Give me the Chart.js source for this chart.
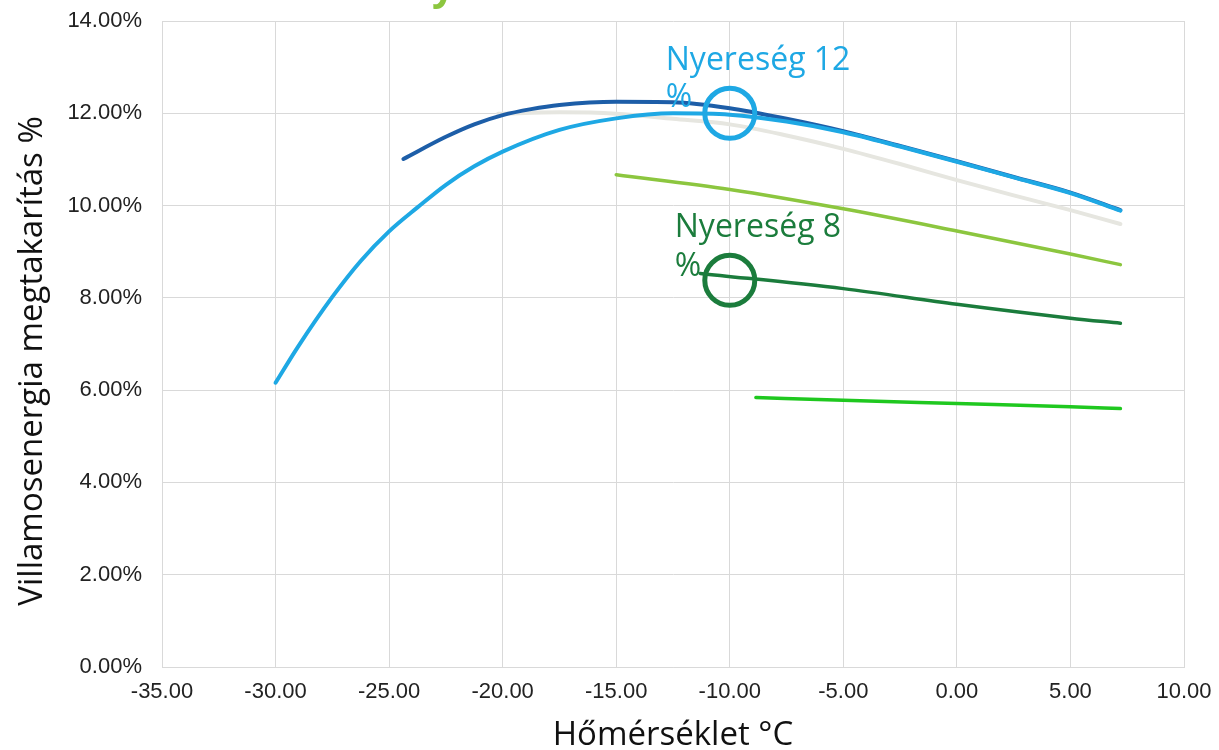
<!DOCTYPE html>
<html>
<head>
<meta charset="utf-8">
<script src="https://cdn.jsdelivr.net/npm/chart.js@4/dist/chart.umd.min.js"></script>
<style>
html,body{margin:0;padding:0;background:#fff;}
#wrap{width:1219px;height:750px;position:relative;}
</style>
</head>
<body>
<div id="wrap"><canvas id="c" width="1219" height="750"></canvas></div>
<script>
// ---- data ----
const xTicks = [-35, -30, -25, -20, -15, -10, -5, 0, 5, 10];
const yTicks = [0, 2, 4, 6, 8, 10, 12, 14];

const lightBlueX = [-30, -29, -27.5, -26.25, -25, -23.75, -22.5, -21.25, -20, -17.5, -15, -12.5, -10, -7.5, -5, -2.5, 0, 2.5, 5, 7.2];
const lightBlueY = [6.16, 6.95, 8.02, 8.8, 9.44, 9.96, 10.45, 10.85, 11.17, 11.64, 11.89, 12.0, 11.97, 11.82, 11.59, 11.28, 10.95, 10.61, 10.27, 9.89];

const darkBlueX = [-24.37, -22.5, -21.25, -20, -18.75, -17.5, -15, -12.5, -10, -7.5, -5, -2.5, 0, 2.5, 5, 7.2];
const darkBlueY = [11.01, 11.49, 11.76, 11.96, 12.09, 12.18, 12.25, 12.24, 12.11, 11.88, 11.61, 11.29, 10.96, 10.62, 10.28, 9.9];

const grayX = [-20.2, -17.5, -15, -12.5, -10, -7.5, -5, -2.5, 0, 2.5, 5, 7.2];
const grayY = [11.99, 12.02, 11.99, 11.88, 11.76, 11.52, 11.23, 10.9, 10.55, 10.22, 9.9, 9.6];

const lightGreenX = [-15, -10, -5, 0, 5, 7.2];
const lightGreenY = [10.67, 10.35, 9.93, 9.45, 8.95, 8.72];

const darkGreenX = [-11.3, -5, 0, 5, 7.2];
const darkGreenY = [8.53, 8.2, 7.86, 7.56, 7.45];

const brightGreenX = [-8.85, -5, 0, 5, 7.2];
const brightGreenY = [5.84, 5.78, 5.71, 5.64, 5.6];

const markerX = [-10, -10];
const markerY = [12.0, 8.38];
const markerLabels = [["Nyereség 12", "%"], ["Nyereség 8", "%"]];
const markerColors = ["#1ea8e4", "#1b7c3c"];

const xTitle = "Hőmérséklet °C";
const yTitle = "Villamosenergia megtakarítás %";
const chartTitleFragment = "y";

// ---- helpers ----
function pts(xs, ys) { return xs.map((x, i) => ({x: x, y: ys[i]})); }
function lineDs(xs, ys, color, w) {
  return {
    data: pts(xs, ys), showLine: true, borderColor: color, backgroundColor: color,
    borderWidth: w, pointRadius: 0, pointHoverRadius: 0, fill: false,
    cubicInterpolationMode: 'monotone', borderCapStyle: 'round', borderJoinStyle: 'round'
  };
}
function markerDs(i) {
  return {
    data: [{x: markerX[i], y: markerY[i]}], showLine: false,
    pointRadius: 25, pointBorderWidth: 5, pointBorderColor: markerColors[i],
    pointBackgroundColor: 'rgba(0,0,0,0)', pointHoverRadius: 25, clip: false
  };
}

const labelPlugin = {
  id: 'markerLabels',
  afterDatasetsDraw(chart) {
    const ctx = chart.ctx;
    const xs = chart.scales.x, ys = chart.scales.y;
    const offs = [[-64, -43, -6], [-55, -43, -4]];
    ctx.save();
    ctx.font = '32px "Open Sans"';
    ctx.textAlign = 'left';
    ctx.textBaseline = 'alphabetic';
    markerLabels.forEach((lines, i) => {
      const px = xs.getPixelForValue(markerX[i]);
      const py = ys.getPixelForValue(markerY[i]);
      ctx.fillStyle = markerColors[i];
      ctx.fillText(lines[0], px + offs[i][0], py + offs[i][1]);
      ctx.fillText(lines[1], px + offs[i][0], py + offs[i][2]);
    });
    // y axis title (rotated), placed a little below the plot-area centre as in the source
    ctx.save();
    ctx.translate(33, 361);
    ctx.rotate(-Math.PI / 2);
    ctx.font = '33px "Open Sans"';
    ctx.fillStyle = '#111';
    ctx.textAlign = 'center';
    ctx.textBaseline = 'middle';
    ctx.fillText(yTitle, 0, 0);
    ctx.restore();
    // clipped chart title remnant at the very top
    ctx.fillStyle = '#8cc63f';
    ctx.font = 'bold 40px "Open Sans"';
    ctx.fillText(chartTitleFragment, 432, 0);
    ctx.restore();
  }
};

const tickFont = {family: '"Liberation Sans", Arial, sans-serif', size: 22};

new Chart(document.getElementById('c'), {
  type: 'scatter',
  data: {
    datasets: [
      markerDs(0),
      markerDs(1),
      lineDs(lightBlueX, lightBlueY, '#1ea8e4', 4),
      lineDs(darkBlueX, darkBlueY, '#1d5ea8', 4),
      lineDs(grayX, grayY, '#e6e6e0', 4),
      lineDs(lightGreenX, lightGreenY, '#8cc63f', 3.5),
      lineDs(darkGreenX, darkGreenY, '#1b7c3c', 3.5),
      lineDs(brightGreenX, brightGreenY, '#1fc81f', 3.5)
    ]
  },
  options: {
    responsive: false,
    animation: false,
    devicePixelRatio: 1,
    layout: {autoPadding: false, padding: {top: 21, right: 35, left: 0, bottom: 0}},
    plugins: {legend: {display: false}, tooltip: {enabled: false}, title: {display: false}},
    scales: {
      x: {
        type: 'linear', min: -35, max: 10,
        afterBuildTicks: s => { s.ticks = xTicks.map(v => ({value: v})); },
        ticks: {font: tickFont, color: '#222', padding: 12, maxRotation: 0, autoSkip: false,
                callback: v => Number(v).toFixed(2)},
        grid: {color: '#d9d9d9', lineWidth: 1, drawTicks: false},
        border: {color: '#d9d9d9', width: 1},
        title: {display: true, text: xTitle, color: '#111',
                font: {family: '"Open Sans"', size: 33, lineHeight: 1}, padding: {top: 0, bottom: -2}},
        afterFit: s => { s.height = 83; s.paddingLeft = 0; s.paddingRight = 0; }
      },
      y: {
        type: 'linear', min: 0, max: 14,
        afterBuildTicks: s => { s.ticks = yTicks.map(v => ({value: v})); },
        ticks: {font: tickFont, color: '#222', padding: 20, autoSkip: false,
                callback: v => Number(v).toFixed(2) + '%'},
        grid: {color: '#d9d9d9', lineWidth: 1, drawTicks: false},
        border: {color: '#d9d9d9', width: 1},
        title: {display: false},
        afterFit: s => { s.width = 162; s.paddingTop = 0; s.paddingBottom = 0; }
      }
    }
  },
  plugins: [labelPlugin]
});
</script>
</body>
</html>
